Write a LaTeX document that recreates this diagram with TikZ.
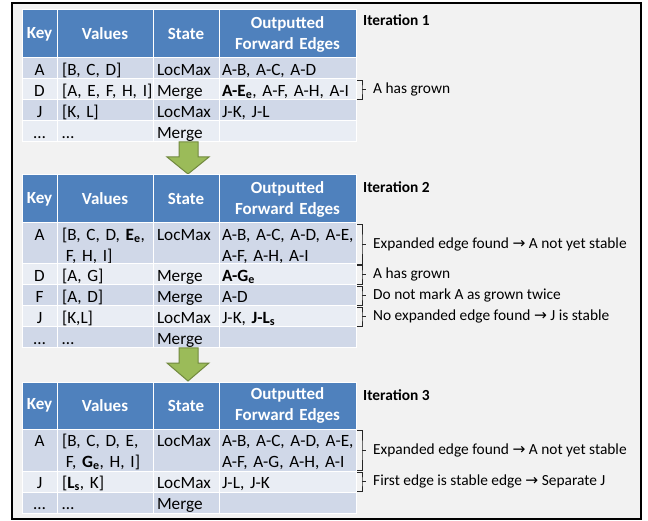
\documentclass[tikz,border=0pt]{standalone}
\usepackage{fontspec}
\setmainfont{Carlito}
\newfontfamily\symfont{DejaVu Sans}

\definecolor{hdrblue}{HTML}{4F81BD}
\definecolor{rowdark}{HTML}{D0D8E8}
\definecolor{rowlight}{HTML}{E9EDF4}
\definecolor{framegray}{HTML}{F2F2F2}
\definecolor{arrowgreen}{HTML}{9BBB59}
\definecolor{arrowline}{HTML}{71893F}

\newcommand{\toarrow}{{\symfont\char"2192}}
\newcommand{\ind}{\hspace*{0.23em}}
\newcommand{\lcell}[1]{\raisebox{-2.5pt}[\height][\depth]{\begin{tabular}{@{}l@{}}#1\end{tabular}}}
\newcommand{\ccell}[1]{\raisebox{-2.5pt}[\height][\depth]{\begin{tabular}{@{}c@{}}#1\end{tabular}}}

% header row: name, top, height
\newcommand{\headrow}[3]{%
    \node[keycell, hdr, minimum height=#3] (#1k) at (22, #2) {Key};
    \node[valcell, hdr, minimum height=#3] (#1v) at (57, #2) {Values};
    \node[statecell, hdr, minimum height=#3] (#1s) at (153, #2) {State};
    \node[edgecell, hdr, minimum height=#3] (#1e) at (219, #2) {Outputted\\Forward Edges};
}
% data row: name, top, height, fill, key, values, state, edges
\newcommand{\tabrow}[8]{%
    \node[keycell, fill=#4, minimum height=#3] (#1k) at (22, #2) {\ccell{#5}};
    \node[valcell, fill=#4, minimum height=#3] (#1v) at (57, #2) {\lcell{#6}};
    \node[statecell, fill=#4, minimum height=#3] (#1s) at (153, #2) {\lcell{#7}};
    \node[edgecell, fill=#4, minimum height=#3] (#1e) at (219, #2) {\lcell{#8}};
}
% bracket note: row, name, text
\newcommand{\rownote}[3]{%
    \node[note] (#2) at ([xshift=17pt]#1e.east) {#3};
    \draw[bracket] ([xshift=1pt, yshift=-1pt]#1e.north east) -| ([xshift=6pt]#1e.east)
        |- ([xshift=1pt, yshift=1pt]#1e.south east);
    \draw[bracket] ([xshift=6pt]#1e.east) -- ([xshift=-7pt]#2.west);
}

\begin{document}
\begin{tikzpicture}[
        x=1pt, y=-1pt,
        cell/.style={anchor=north west, draw=white, line width=1pt, inner ysep=0pt,
            outer sep=0pt, font=\fontsize{17.2}{21}\selectfont},
        keycell/.style={cell, inner xsep=4pt, text width=27pt, align=center},
        valcell/.style={cell, inner xsep=5pt, text width=86pt, align=left},
        statecell/.style={cell, inner xsep=4pt, text width=58pt, align=left},
        edgecell/.style={cell, inner xsep=3pt, text width=131pt, align=left},
        hdr/.style={fill=hdrblue, text=white, align=center,
            font=\fontsize{17}{21}\selectfont\bfseries},
        note/.style={anchor=west, inner sep=0pt, font=\fontsize{15.4}{18}\selectfont},
        iter/.style={anchor=west, inner sep=0pt, font=\fontsize{15.4}{18}\selectfont\bfseries},
        bracket/.style={draw=black!85, line width=0.8pt},
        steparrow/.style={fill=arrowgreen, draw=arrowline, line width=1pt, line join=miter}
        ]
    \useasboundingbox (0, 0) rectangle (648, 521);
    \draw[fill=framegray, draw=black, line width=1.5pt] (12, 3) rectangle (641, 519);

    % iteration 1
    \headrow{ha}{10}{48}
    \tabrow{a1}{58}{21}{rowdark}{A}{[B, C, D]}{LocMax}{A-B, A-C, A-D}
    \tabrow{a2}{79}{21}{rowlight}{D}{[A, E, F, H, I]}{Merge}{\textbf{A-E\textsubscript{e}}, A-F, A-H, A-I}
    \tabrow{a3}{100}{21}{rowdark}{J}{[K, L]}{LocMax}{J-K, J-L}
    \tabrow{a4}{121}{21}{rowlight}{…}{…}{Merge}{}
    \node[iter] (it1) at (363, 20) {Iteration 1};
    \rownote{a2}{na2}{A has grown}

    \draw[steparrow] (179, 142) -- (198, 142) -- (198, 157) -- (209, 157) -- (188, 174)
        -- (167, 157) -- (179, 157) -- cycle;

    % iteration 2
    \headrow{hb}{175}{48}
    \tabrow{b1}{223}{41}{rowdark}{A\\ \mbox{}}{[B, C, D, \textbf{E\textsubscript{e}},\\\ind F, H, I]}
        {LocMax\\ \mbox{}}{A-B, A-C, A-D, A-E,\\A-F, A-H, A-I}
    \tabrow{b2}{264}{21}{rowlight}{D}{[A, G]}{Merge}{\textbf{A-G\textsubscript{e}}}
    \tabrow{b3}{285}{21}{rowdark}{F}{[A, D]}{Merge}{A-D}
    \tabrow{b4}{306}{21}{rowlight}{J}{[K,L]}{LocMax}{J-K, \textbf{J-L\textsubscript{s}}}
    \tabrow{b5}{327}{21}{rowdark}{…}{…}{Merge}{}
    \node[iter] (it2) at (363, 187) {Iteration 2};
    \rownote{b1}{nb1}{Expanded edge found \toarrow\ A not yet stable}
    \rownote{b2}{nb2}{A has grown}
    \rownote{b3}{nb3}{Do not mark A as grown twice}
    \rownote{b4}{nb4}{No expanded edge found \toarrow\ J is stable}

    \begin{scope}[yshift=-206pt]
        \draw[steparrow] (179, 142) -- (198, 142) -- (198, 157) -- (209, 157) -- (188, 175)
            -- (167, 157) -- (179, 157) -- cycle;
    \end{scope}

    % iteration 3
    \headrow{hc}{382}{47}
    \tabrow{c1}{429}{42}{rowdark}{A\\ \mbox{}}{[B, C, D, E,\\\ind F, \textbf{G\textsubscript{e}}, H, I]}
        {LocMax\\ \mbox{}}{A-B, A-C, A-D, A-E,\\A-F, A-G, A-H, A-I}
    \tabrow{c2}{471}{21}{rowlight}{J}{[\textbf{L\textsubscript{s}}, K]}{LocMax}{J-L, J-K}
    \tabrow{c3}{492}{21}{rowdark}{…}{…}{Merge}{}
    \node[iter] (it3) at (363, 395) {Iteration 3};
    \rownote{c1}{nc1}{Expanded edge found \toarrow\ A not yet stable}
    \rownote{c2}{nc2}{First edge is stable edge \toarrow\ Separate J}
\end{tikzpicture}
\end{document}
